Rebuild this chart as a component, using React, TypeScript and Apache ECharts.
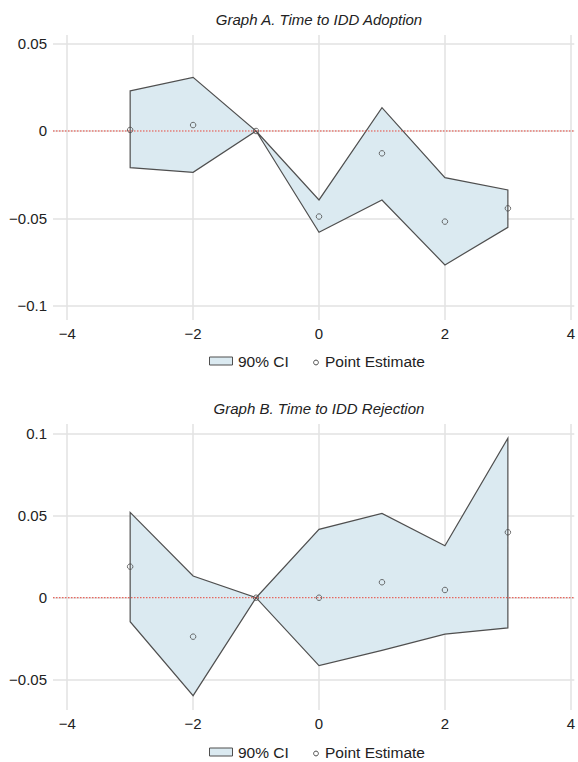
import React, { useEffect, useRef } from "react";
import * as echarts from "echarts";

// ---- data ----
const xs = [-3, -2, -1, 0, 1, 2, 3];
const upperA = [0.023, 0.0307, 0, -0.0395, 0.0134, -0.0267, -0.0338];
const lowerA = [-0.021, -0.0237, 0, -0.058, -0.0395, -0.0767, -0.0552];
const pointA = [0.0006, 0.0034, 0, -0.049, -0.0128, -0.0519, -0.0443];

const upperB = [0.0519, 0.0132, 0, 0.0416, 0.0513, 0.0316, 0.097];
const lowerB = [-0.0146, -0.0596, 0, -0.0413, -0.032, -0.0221, -0.0184];
const pointB = [0.0189, -0.0237, 0, 0, 0.0094, 0.0047, 0.0398];

const xTicks = [-4, -2, 0, 2, 4];
const yTicksA = [-0.1, -0.05, 0, 0.05];
const yTicksB = [-0.05, 0, 0.05, 0.1];
const zeroRef = 0;

const titleA = "Graph A. Time to IDD Adoption";
const titleB = "Graph B. Time to IDD Rejection";
const legendCI = "90% CI";
const legendPt = "Point Estimate";

const FONT = "'Liberation Sans', Arial, Helvetica, sans-serif";
const TEXT = "#222";
const GRID = "#e2e2e2";
const BAND_FILL = "#dbeaf1";
const BAND_EDGE = "#4f4f4f";
const ZERO = "#e8473c";

const fmt = (v: number) => {
  if (Math.abs(v) < 1e-12) return "0";
  const s = String(Math.round(Math.abs(v) * 1000) / 1000);
  return v < 0 ? "\u2212" + s : s;
};

function xAxis(gridIndex: number) {
  return {
    type: "value",
    gridIndex,
    min: -4.2256,
    max: 4.055,
    axisLine: { show: false },
    axisTick: { show: false, customValues: xTicks },
    axisLabel: {
      customValues: xTicks,
      formatter: (v: number) => fmt(v),
      color: TEXT,
      fontSize: 15,
      fontFamily: FONT,
      margin: 6,
    },
    splitLine: { show: true, lineStyle: { color: GRID, width: 1.5 } },
  };
}

function yAxis(gridIndex: number, min: number, max: number, ticks: number[]) {
  return {
    type: "value",
    gridIndex,
    min,
    max,
    axisLine: { show: false },
    axisTick: { show: false, customValues: ticks },
    axisLabel: {
      customValues: ticks,
      formatter: (v: number) => fmt(v),
      color: TEXT,
      fontSize: 15,
      fontFamily: FONT,
      margin: 6,
    },
    splitLine: { show: true, lineStyle: { color: GRID, width: 1.5 } },
  };
}

function bandSeries(idx: number, upper: number[], lower: number[]) {
  return {
    type: "custom",
    name: legendCI,
    xAxisIndex: idx,
    yAxisIndex: idx,
    z: 2,
    silent: true,
    data: xs.map((x, i) => [x, lower[i], upper[i]]),
    encode: { x: 0, y: [1, 2] },
    renderItem: (params: any, api: any) => {
      if (params.dataIndex !== 0) return null;
      const pts: number[][] = [];
      for (let i = 0; i < xs.length; i++) pts.push(api.coord([xs[i], upper[i]]));
      for (let i = xs.length - 1; i >= 0; i--) pts.push(api.coord([xs[i], lower[i]]));
      const cs = params.coordSys;
      const y0 = api.coord([0, zeroRef])[1];
      return {
        type: "group",
        children: [
          {
            type: "polygon",
            shape: { points: pts },
            style: { fill: BAND_FILL, stroke: BAND_EDGE, lineWidth: 1.2, lineJoin: "miter" },
          },
          {
            type: "line",
            shape: { x1: cs.x, y1: y0, x2: cs.x + cs.width, y2: y0 },
            style: { stroke: ZERO, lineWidth: 1, lineDash: [1.5, 1.5], fill: null },
          },
        ],
      };
    },
  };
}

function pointSeries(idx: number, pts: number[]) {
  return {
    type: "scatter",
    name: legendPt,
    xAxisIndex: idx,
    yAxisIndex: idx,
    z: 4,
    symbol: "circle",
    symbolSize: 5.5,
    itemStyle: { color: "rgba(255,255,255,0)", borderColor: "#4a4a4a", borderWidth: 1 },
    data: xs.map((x, i) => [x, pts[i]]),
  };
}

function legendGraphic(dy: number) {
  return [
    {
      type: "rect",
      shape: { x: 209.5, y: 357 + dy, width: 23, height: 8 },
      style: { fill: BAND_FILL, stroke: BAND_EDGE, lineWidth: 1 },
    },
    {
      type: "text",
      x: 238,
      y: 361.7 + dy,
      style: {
        text: legendCI,
        fill: TEXT,
        font: `15.5px ${FONT}`,
        textVerticalAlign: "middle",
        textAlign: "left",
      },
    },
    {
      type: "circle",
      shape: { cx: 316, cy: 362.5 + dy, r: 2.4 },
      style: { fill: "none", stroke: "#4a4a4a", lineWidth: 1 },
    },
    {
      type: "text",
      x: 325,
      y: 361.7 + dy,
      style: {
        text: legendPt,
        fill: TEXT,
        font: `15.5px ${FONT}`,
        textVerticalAlign: "middle",
        textAlign: "left",
      },
    },
  ];
}

function titleGraphic(text: string, y: number) {
  return {
    type: "text",
    x: 319,
    y,
    style: {
      text,
      fill: TEXT,
      font: `italic 15px ${FONT}`,
      textAlign: "center",
      textVerticalAlign: "middle",
    },
  };
}

export default function App() {
  const ref = useRef<HTMLDivElement>(null);
  useEffect(() => {
    if (!ref.current) return;
    const chart = echarts.init(ref.current, undefined, { renderer: "svg" });
    chart.setOption({
      animation: false,
      backgroundColor: "#ffffff",
      textStyle: { fontFamily: FONT },
      grid: [
        { left: 53, top: 35, width: 525, height: 285 },
        { left: 53, top: 424, width: 525, height: 286 },
      ],
      xAxis: [xAxis(0), xAxis(1)],
      yAxis: [
        yAxis(0, -0.10825, 0.05498, yTicksA),
        yAxis(1, -0.0683, 0.10566, yTicksB),
      ],
      series: [
        bandSeries(0, upperA, lowerA),
        pointSeries(0, pointA),
        bandSeries(1, upperB, lowerB),
        pointSeries(1, pointB),
      ],
      graphic: [
        titleGraphic(titleA, 19.5),
        titleGraphic(titleB, 408),
        ...legendGraphic(0),
        ...legendGraphic(391),
      ],
    });
    return () => chart.dispose();
  }, []);
  return (
    <div
      ref={ref}
      style={{ position: "absolute", left: 0, top: 0, width: 578, height: 762 }}
    />
  );
}
